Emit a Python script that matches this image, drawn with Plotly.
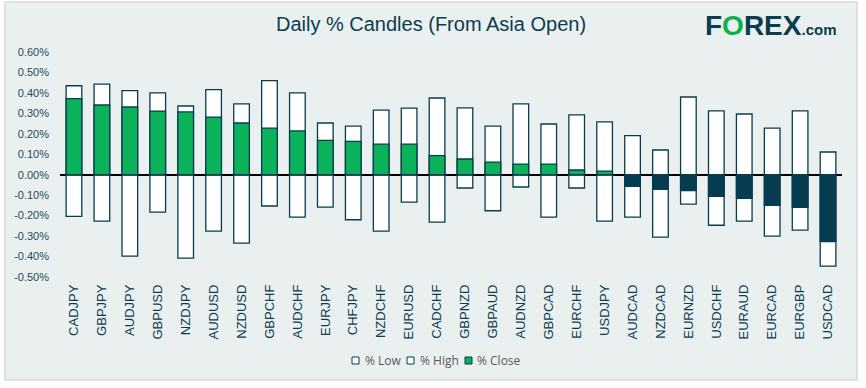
import plotly.graph_objects as go

pairs = ["CADJPY", "GBPJPY", "AUDJPY", "GBPUSD", "NZDJPY", "AUDUSD", "NZDUSD", "GBPCHF",
         "AUDCHF", "EURJPY", "CHFJPY", "NZDCHF", "EURUSD", "CADCHF", "GBPNZD", "GBPAUD",
         "AUDNZD", "GBPCAD", "EURCHF", "USDJPY", "AUDCAD", "NZDCAD", "EURNZD", "USDCHF",
         "EURAUD", "EURCAD", "EURGBP", "USDCAD"]

pct_high = [0.435, 0.443, 0.411, 0.400, 0.336, 0.416, 0.346, 0.460,
            0.400, 0.253, 0.238, 0.316, 0.326, 0.375, 0.327, 0.238,
            0.346, 0.248, 0.293, 0.258, 0.191, 0.121, 0.380, 0.312,
            0.297, 0.228, 0.312, 0.111]

pct_low = [-0.204, -0.227, -0.398, -0.183, -0.408, -0.276, -0.334, -0.153,
           -0.207, -0.158, -0.220, -0.276, -0.134, -0.232, -0.065, -0.176,
           -0.060, -0.207, -0.065, -0.227, -0.207, -0.305, -0.144, -0.247,
           -0.227, -0.300, -0.271, -0.447]

pct_close = [0.372, 0.341, 0.331, 0.311, 0.307, 0.282, 0.253, 0.228,
             0.214, 0.168, 0.163, 0.150, 0.150, 0.093, 0.077, 0.062,
             0.052, 0.052, 0.023, 0.018, -0.057, -0.072, -0.077, -0.106,
             -0.116, -0.150, -0.160, -0.327]

y_ticks = [0.6, 0.5, 0.4, 0.3, 0.2, 0.1, 0.0, -0.1, -0.2, -0.3, -0.4, -0.5]

legend_names = ["% Low", "% High", "% Close"]

GREEN = "#0CB25A"
DARK = "#063C4F"
OUTLINE = "#063C4F"
BG = "#EAF0F0"

W, H = 866, 388
ML, MR, MT, MB = 60, 24, 52, 111
PW, PH = W - ML - MR, H - MT - MB


def px_x(p):
    return (p - ML) / PW


def px_y(p):
    return (H - MB - p) / PH


close_colors = [GREEN if v >= 0 else DARK for v in pct_close]

fig = go.Figure()
fig.add_trace(go.Bar(x=pairs, y=pct_low, name=legend_names[0],
                     marker=dict(color="white", line=dict(color=OUTLINE, width=1.3)), width=0.56))
fig.add_trace(go.Bar(x=pairs, y=pct_high, name=legend_names[1],
                     marker=dict(color="white", line=dict(color=OUTLINE, width=1.3)), width=0.56))
fig.add_trace(go.Bar(x=pairs, y=pct_close, name=legend_names[2],
                     marker=dict(color=close_colors, line=dict(color=OUTLINE, width=1.3)), width=0.56))

shapes = [dict(type="rect", xref="paper", yref="paper", x0=px_x(5), x1=px_x(857), y0=px_y(380), y1=px_y(2),
               fillcolor=BG, line=dict(color="#D9D9D9", width=1.5), layer="below")]

# manual legend (compact, like the original)
leg_sq = [(352, "white"), (407, "white"), (465, GREEN)]
leg_tx = [363, 418, 475]
annotations = []
for (sx, col), tx, name in zip(leg_sq, leg_tx, legend_names):
    shapes.append(dict(type="rect", xref="paper", yref="paper", x0=px_x(sx), x1=px_x(sx + 7),
                       y0=px_y(364), y1=px_y(357), fillcolor=col, line=dict(color=OUTLINE, width=1)))
    annotations.append(dict(xref="paper", yref="paper", x=px_x(tx), y=px_y(360.5), xanchor="left",
                            yanchor="middle", showarrow=False, text=name,
                            font=dict(size=12, color="#595959",
                                      family="Liberation Sans Narrow, Open Sans, sans-serif")))

annotations.append(dict(xref="paper", yref="paper", x=px_x(770), y=px_y(26), xanchor="center",
                        yanchor="middle", showarrow=False,
                        text="<b>F<span style='color:#0DB14B'>O</span>REX<span style='font-size:15px'>.com</span></b>",
                        font=dict(size=28, color="#0A3D4E", family="Liberation Sans, Arial, sans-serif")))

fig.update_layout(
    width=W, height=H,
    margin=dict(l=ML, r=MR, t=MT, b=MB),
    barmode="overlay",
    paper_bgcolor="white",
    plot_bgcolor="rgba(0,0,0,0)",
    font=dict(family="Liberation Sans, Arial, sans-serif", color="#0B3C4F"),
    title=dict(text="Daily % Candles (From Asia Open)", x=431 / W, xanchor="center", xref="container",
               y=1 - 24 / H, yanchor="middle", yref="container",
               font=dict(size=20, color="#0B3C4F", family="Liberation Sans, Arial, sans-serif")),
    showlegend=False,
    shapes=shapes,
    annotations=annotations,
)

fig.update_xaxes(range=[-0.5, 27.5], tickangle=-90, showgrid=False, showline=False, ticks="",
                 tickfont=dict(size=13, color="#0B3C4F"), ticklabelstandoff=4)
fig.update_yaxes(range=[-0.5, 0.6], tickvals=y_ticks, ticktext=[f"{v:.2f}%" for v in y_ticks],
                 showgrid=False, showline=False, ticks="", zeroline=True, zerolinecolor="black",
                 zerolinewidth=1.5, tickfont=dict(size=11, color="#1E4A5A"), ticklabelstandoff=10)

fig.write_html("out.html", config={"displayModeBar": False},
               post_script="document.body.style.margin='0px';")
